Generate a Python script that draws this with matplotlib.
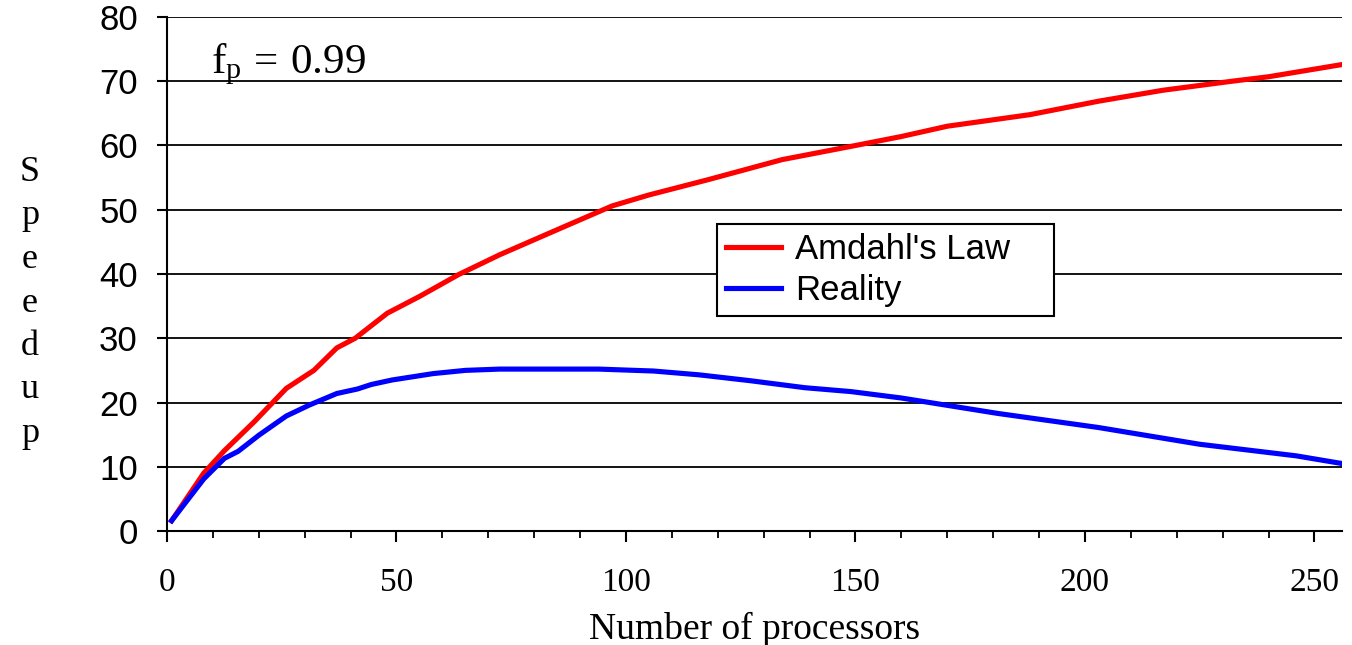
import numpy as np
import matplotlib
matplotlib.use('Agg')
import matplotlib.pyplot as plt
from matplotlib.ticker import MultipleLocator

plt.rcParams['mathtext.fontset'] = 'custom'
plt.rcParams['mathtext.rm'] = 'Liberation Serif'
plt.rcParams['mathtext.it'] = 'Liberation Serif'

# values
amdahl_p = [1, 8, 12.5, 19, 26, 32, 37, 41, 48, 55, 63.5, 72.5, 86, 97, 105, 118,
            134, 150, 160, 170, 188, 203, 217, 232, 240, 256]
amdahl_speedup = [1.6, 9.0, 12.5, 17.0, 22.2, 25.0, 28.5, 30.0, 33.9, 36.5, 39.9, 43.0,
                  47.2, 50.6, 52.3, 54.7, 57.8, 60.0, 61.4, 63.0, 64.8, 66.9, 68.6,
                  70.0, 70.7, 72.6]

reality_p = [1, 8, 12.5, 15.5, 20, 26, 31, 37, 41.5, 44.5, 49, 58, 65, 72.5, 94, 106,
             116, 127, 139, 149, 160, 181, 203, 225, 246, 256]
reality_speedup = [1.6, 8.1, 11.3, 12.4, 14.9, 17.9, 19.6, 21.4, 22.1, 22.8, 23.5, 24.5,
                   25.0, 25.2, 25.2, 24.9, 24.3, 23.4, 22.3, 21.7, 20.7, 18.3, 16.1,
                   13.5, 11.7, 10.5]

W, H = 1352, 645
fig = plt.figure(figsize=(W / 100, H / 100), dpi=100)
ax = fig.add_axes([167 / W, 1 - 531 / H, (1342 - 167) / W, (531 - 17) / H])

for y in range(10, 90, 10):
    ax.axhline(y, color='black', linewidth=1.3, zorder=1)

ax.plot(amdahl_p, amdahl_speedup, color='#ff0000', linewidth=3.7,
        solid_joinstyle='round', label="Amdahl's Law", zorder=3)
ax.plot(reality_p, reality_speedup, color='#0000ff', linewidth=3.7,
        solid_joinstyle='round', label='Reality', zorder=3)

ax.set_xlim(0, 256)
ax.set_ylim(0, 80)
ax.xaxis.set_major_locator(MultipleLocator(50))
ax.xaxis.set_minor_locator(MultipleLocator(10))
ax.yaxis.set_major_locator(MultipleLocator(10))

for s in ['top', 'right']:
    ax.spines[s].set_visible(False)
for s in ['left', 'bottom']:
    ax.spines[s].set_linewidth(1.5)

ax.tick_params(axis='x', which='major', direction='out', length=8, width=1.5, pad=18)
ax.tick_params(axis='x', which='minor', direction='out', length=5, width=1.3)
ax.tick_params(axis='y', direction='out', length=7, width=1.5, pad=14)

for lab in ax.get_xticklabels():
    lab.set_fontfamily('Liberation Serif')
    lab.set_fontsize(24)
for lab in ax.get_yticklabels():
    lab.set_fontfamily('Liberation Sans')
    lab.set_fontsize(25)

ax.set_xlabel('Number of processors', fontfamily='Liberation Serif', fontsize=27,
              labelpad=10)

fig.text(30 / W, 1 - 303 / H, 'S\np\ne\ne\nd\nu\np', ha='center', va='center',
         fontfamily='Liberation Serif', fontsize=26, linespacing=1.42)

ax.text(211 / W, 1 - 73 / H, r'$\mathrm{f_p\,=\,0.99}$', transform=fig.transFigure,
        ha='left', va='baseline', fontsize=31)

leg = ax.legend(loc='upper left',
                bbox_to_anchor=(717 / W, 1 - 313 / H, (1054 - 717) / W, (313 - 224) / H),
                bbox_transform=fig.transFigure, mode='expand', borderaxespad=0,
                fancybox=False, framealpha=1, edgecolor='black',
                prop={'family': 'Liberation Sans', 'size': 25},
                handlelength=1.6, handletextpad=0.4, labelspacing=0.25,
                borderpad=0.25)
leg.get_frame().set_linewidth(1.5)

fig.savefig('out.png', dpi=100)
